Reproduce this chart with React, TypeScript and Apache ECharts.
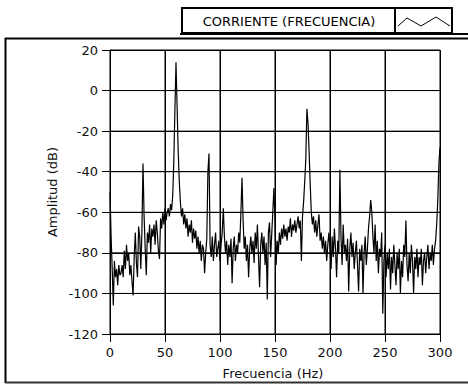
import React, { useEffect, useRef } from "react";
import * as echarts from "echarts";

const legendLabel = "CORRIENTE (FRECUENCIA)";
const xTitle = "Frecuencia (Hz)";
const yTitle = "Amplitud (dB)";
const xTicks = [0, 50, 100, 150, 200, 250, 300];
const yTicks = [-120, -100, -80, -60, -40, -20, 0, 20];

// Frequency step 1 Hz, starting at 0 Hz
const freqStart = 0;
const freqStep = 1;
const amplitude = [
  -50, -72, -88, -106, -84, -92, -88, -96, -86, -91,
  -90, -86, -92, -79, -88, -76, -84, -80, -91, -86,
  -94, -101, -82, -70, -85, -92, -67, -72, -88, -70,
  -36, -62, -78, -91, -70, -75, -66, -80, -68, -72,
  -66, -76, -64, -70, -79, -83, -63, -68, -60, -66,
  -58, -64, -60, -58, -62, -56, -59, -52, -35, -10,
  14, -8, -30, -45, -55, -62, -58, -66, -61, -68,
  -63, -72, -66, -70, -64, -75, -68, -73, -69, -78,
  -72, -80, -74, -84, -76, -78, -90, -80, -73, -40,
  -31, -76, -82, -72, -84, -76, -70, -82, -78, -74,
  -84, -76, -70, -58, -72, -80, -74, -86, -76, -82,
  -73, -95, -78, -72, -84, -76, -80, -70, -75, -60,
  -43, -64, -78, -72, -84, -76, -92, -78, -72, -80,
  -74, -85, -70, -78, -66, -82, -97, -76, -70, -80,
  -72, -86, -75, -103, -70, -65, -82, -71, -60, -48,
  -64, -86, -74, -80, -70, -76, -68, -73, -66, -72,
  -68, -74, -67, -70, -63, -72, -66, -69, -64, -70,
  -66, -62, -68, -64, -84, -62, -55, -45, -34, -9,
  -16, -30, -46, -60, -66, -62, -70, -64, -72, -66,
  -61, -74, -70, -78, -72, -80, -74, -84, -76, -70,
  -78, -88, -72, -82, -68, -78, -92, -74, -80, -39,
  -72, -86, -66, -80, -76, -84, -73, -99, -78, -70,
  -82, -75, -88, -80, -74, -86, -99, -78, -84, -76,
  -100, -80, -72, -86, -78, -68, -62, -54, -60, -72,
  -80, -66, -84, -74, -90, -78, -82, -70, -110, -84,
  -76, -92, -80, -88, -78, -98, -82, -90, -76, -86,
  -96, -80, -88, -78, -100, -84, -92, -76, -82, -64,
  -86, -94, -80, -90, -76, -84, -100, -82, -88, -78,
  -92, -82, -86, -78, -96, -84, -80, -90, -82, -76,
  -88, -80, -84, -76, -86, -78, -74, -66, -54, -36,
  -28,
];

const FONT = "DejaVu Sans";

export default function App() {
  const ref = useRef<HTMLDivElement>(null);

  useEffect(() => {
    if (!ref.current) return;
    const chart = echarts.init(ref.current, undefined, { renderer: "svg" });
    const data = amplitude.map((v, i) => [freqStart + i * freqStep, v]);
    const xMin = xTicks[0];
    const xMax = xTicks[xTicks.length - 1];
    const yMin = yTicks[0];
    const yMax = yTicks[yTicks.length - 1];

    // grid lines as thin line series built from the tick arrays (drawn through the axes' scales)
    const gridSeries = [
      ...yTicks.map((t) => ({
        type: "line",
        data: [[xMin, t], [xMax, t]],
        symbol: "none",
        silent: true,
        clip: false,
        z: 1,
        lineStyle: { color: "#000", width: 1 },
      })),
      ...xTicks.map((t) => ({
        type: "line",
        data: [[t, yMin], [t, yMax]],
        symbol: "none",
        silent: true,
        clip: false,
        z: 1,
        lineStyle: { color: "#000", width: 1 },
      })),
    ];

    const textStyle = (text: string) => ({
      text,
      fontFamily: FONT,
      fontSize: 13,
      fill: "#111",
      align: "center",
      verticalAlign: "middle",
    });

    chart.setOption({
      animation: false,
      grid: { left: 110, top: 50, width: 330, height: 284, show: false },
      xAxis: {
        type: "value",
        min: xMin,
        max: xMax,
        interval: 50,
        axisLine: { show: true, onZero: false, lineStyle: { color: "#000", width: 1 } },
        axisTick: { show: true, length: 8, lineStyle: { color: "#000" } },
        axisLabel: { color: "#111", fontFamily: FONT, fontSize: 13, margin: 12 },
        splitLine: { show: true, lineStyle: { color: "#000", width: 1 } },
      },
      yAxis: {
        type: "value",
        min: yMin,
        max: yMax,
        interval: 20,
        axisLine: { show: true, onZero: false, lineStyle: { color: "#000", width: 1 } },
        axisTick: { show: true, length: 8, lineStyle: { color: "#000" } },
        axisLabel: { color: "#111", fontFamily: FONT, fontSize: 13, margin: 12 },
        splitLine: { show: true, lineStyle: { color: "#000", width: 1 } },
      },
      series: [
        ...gridSeries,
        {
          type: "line",
          name: legendLabel,
          data,
          symbol: "none",
          lineStyle: { color: "#000", width: 1.2 },
          z: 5,
        },
      ],
      graphic: [
        // panel frame
        { type: "line", shape: { x1: 5, y1: 38.5, x2: 468, y2: 38.5 }, style: { stroke: "#000", lineWidth: 2 } },
        { type: "line", shape: { x1: 5.5, y1: 38, x2: 5.5, y2: 383 }, style: { stroke: "#000", lineWidth: 2 } },
        { type: "line", shape: { x1: 5, y1: 382.5, x2: 468, y2: 382.5 }, style: { stroke: "#333", lineWidth: 2 } },
        // legend
        { type: "rect", shape: { x: 182, y: 8, width: 213, height: 25 }, style: { fill: "#fff", stroke: "#000", lineWidth: 2 } },
        { type: "rect", shape: { x: 395, y: 8, width: 57, height: 25 }, style: { fill: "#fff", stroke: "#000", lineWidth: 2 } },
        { type: "line", shape: { x1: 180, y1: 34, x2: 468, y2: 34 }, style: { stroke: "#000", lineWidth: 2 } },
        {
          type: "polyline",
          shape: { points: [[398, 26], [407, 18], [421, 26], [436, 17], [450, 26]] },
          style: { stroke: "#000", lineWidth: 1, fill: null },
        },
        { type: "text", x: 289, y: 21, style: { ...textStyle(legendLabel), fill: "#000" } },
        { type: "text", x: 273, y: 373, style: textStyle(xTitle) },
        { type: "text", x: 52, y: 192, rotation: Math.PI / 2, style: textStyle(yTitle) },
      ],
    });

    return () => chart.dispose();
  }, []);

  return (
    <div
      ref={ref}
      style={{ position: "fixed", left: 0, top: 0, width: 468, height: 385, background: "#fff" }}
    />
  );
}
